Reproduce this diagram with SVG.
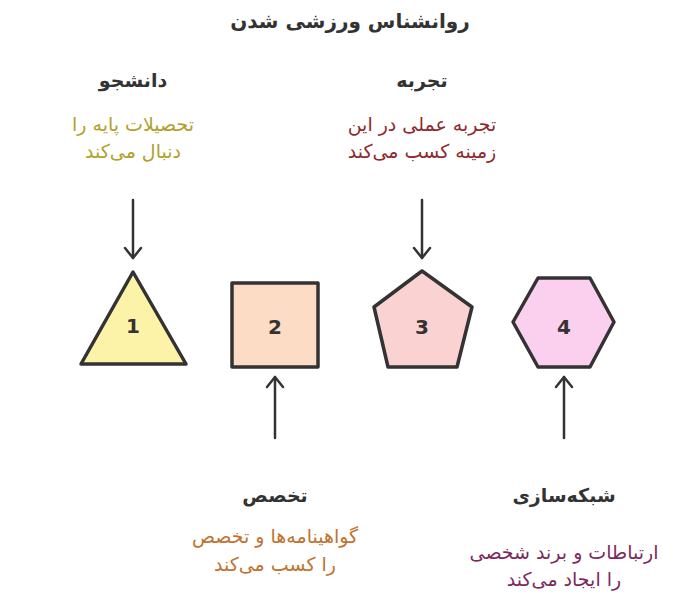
<svg xmlns="http://www.w3.org/2000/svg" width="700" height="604" viewBox="0 0 700 604">
<defs>
<marker id="ah" viewBox="0 0 20 20" refX="18" refY="10" markerWidth="20" markerHeight="20" markerUnits="userSpaceOnUse" orient="auto">
<path d="M8 2 L18 10 L8 18" fill="none" stroke="#333" stroke-width="2.5" stroke-linecap="round" stroke-linejoin="round"/>
</marker>
<style>
text{font-family:"DejaVu Sans","Noto Sans",sans-serif;text-anchor:middle;direction:rtl}
.t{font-size:20px;font-weight:bold;fill:#333}
.h{font-size:19px;font-weight:bold;fill:#333}
.d{font-size:19px}
.n{font-size:20px;font-weight:bold;fill:#333;direction:ltr}
.shape{stroke:#333;stroke-width:3.5;stroke-linejoin:round}
.c{stroke:#333;stroke-width:2.5;fill:none;stroke-linecap:round}
</style>
</defs>
<rect width="700" height="604" fill="#fff"/>
<text class="t" x="350" y="28">روانشناس ورزشی شدن</text>
<g id="connectors">
<line class="c" x1="133" y1="200" x2="133" y2="258" marker-end="url(#ah)"/>
<line class="c" x1="422" y1="200" x2="422" y2="258" marker-end="url(#ah)"/>
<line class="c" x1="275" y1="438" x2="275" y2="377" marker-end="url(#ah)"/>
<line class="c" x1="564" y1="438" x2="564" y2="377" marker-end="url(#ah)"/>
</g>
<g id="node1">
<polygon class="shape" points="133,272 186,364 81,364" fill="#fdf3a8"/>
<text class="n" x="133" y="333">1</text>
<text class="h" x="133" y="87">دانشجو</text>
<text class="d" x="133" y="131" style="fill:#b3a02a">تحصیلات پایه را</text>
<text class="d" x="133" y="158" style="fill:#b3a02a">دنبال می‌کند</text>
</g>
<g id="node2">
<rect class="shape" x="232" y="283" width="86" height="84" fill="#fcdcc4"/>
<text class="n" x="275" y="334">2</text>
<text class="h" x="275" y="502">تخصص</text>
<text class="d" x="275" y="543" style="fill:#c0732e">گواهینامه‌ها و تخصص</text>
<text class="d" x="275" y="571" style="fill:#c0732e">را کسب می‌کند</text>
</g>
<g id="node3">
<polygon class="shape" points="422,271 472,307 457,367 388,367 374,307" fill="#fbd2d2"/>
<text class="n" x="422" y="334">3</text>
<text class="h" x="422" y="87">تجربه</text>
<text class="d" x="422" y="131" style="fill:#8e2a2e">تجربه عملی در این</text>
<text class="d" x="422" y="158" style="fill:#8e2a2e">زمینه کسب می‌کند</text>
</g>
<g id="node4">
<polygon class="shape" points="538,278 590,278 614,322 590,367 538,367 513,322" fill="#fbd0ee"/>
<text class="n" x="564" y="334">4</text>
<text class="h" x="564" y="502">شبکه‌سازی</text>
<text class="d" x="564" y="559" style="fill:#7c2a5c">ارتباطات و برند شخصی</text>
<text class="d" x="564" y="586" style="fill:#7c2a5c">را ایجاد می‌کند</text>
</g>
</svg>
